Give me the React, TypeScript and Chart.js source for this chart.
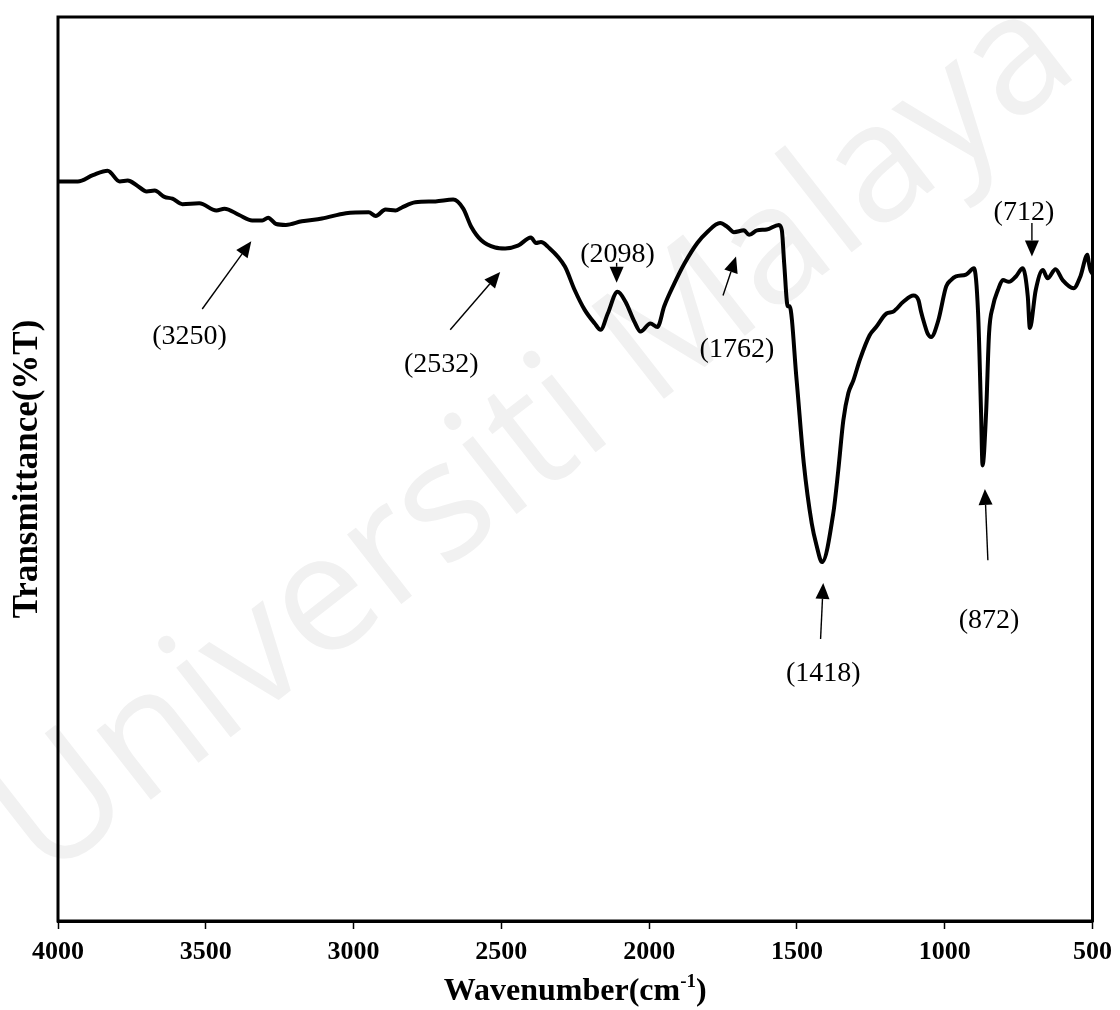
import { useEffect, useRef } from "react";
import { Chart, registerables } from "chart.js";

Chart.register(...registerables);

// Spectrum (wavenumber in cm-1, transmittance in arbitrary %T units)
const wavenumbers = [
  4000, 3933, 3882, 3832, 3791, 3764, 3734, 3700, 3673, 3640, 3613, 3579, 3522, 3464, 3437, 3387,
  3343, 3309, 3289, 3262, 3229, 3175, 3107, 3026, 2949, 2925, 2892, 2858, 2838, 2791, 2723, 2663,
  2629, 2602, 2568, 2521, 2487, 2444, 2400, 2383, 2366, 2343, 2285, 2252, 2218, 2184, 2164, 2140,
  2107, 2080, 2050, 2029, 1996, 1972, 1949, 1915, 1881, 1837, 1804, 1760, 1736, 1713, 1679, 1662,
  1635, 1602, 1561, 1551, 1543, 1531, 1525, 1501, 1477, 1450, 1434, 1415, 1377, 1360, 1343, 1326,
  1309, 1287, 1254, 1232, 1197, 1175, 1140, 1106, 1089, 1080, 1069, 1058, 1046, 1022, 995, 979,
  962, 928, 901, 887, 877, 872, 860, 850, 837, 820, 803, 783, 759, 736, 719, 712,
  692, 668, 652, 625, 601, 564, 541, 517, 513, 507, 500,
];
const transmittance = [
  81.8, 81.8, 82.5, 83.0, 81.8, 81.9, 81.4, 80.7, 80.8, 80.1, 79.9, 79.3, 79.4, 78.6, 78.8, 78.1,
  77.5, 77.5, 77.8, 77.1, 77.0, 77.4, 77.7, 78.3, 78.4, 78.0, 78.7, 78.6, 78.9, 79.5, 79.6, 79.8,
  78.8, 76.8, 75.3, 74.5, 74.4, 74.7, 75.6, 75.0, 75.1, 74.6, 72.4, 69.8, 67.6, 66.1, 65.4, 67.2,
  69.6, 68.5, 66.3, 65.2, 66.1, 65.7, 68.0, 70.5, 72.7, 75.0, 76.2, 77.2, 76.8, 76.2, 76.4, 75.9,
  76.4, 76.5, 77.0, 76.4, 72.7, 68.0, 68.0, 59.8, 50.7, 44.0, 41.6, 39.7, 45.1, 49.9, 55.4, 58.4,
  59.8, 62.1, 64.8, 65.7, 67.2, 67.4, 68.5, 69.2, 68.7, 67.4, 66.1, 65.0, 64.6, 66.4, 70.2, 70.9,
  71.3, 71.5, 72.2, 67.2, 56.2, 50.4, 56.2, 65.0, 68.0, 69.8, 70.9, 70.7, 71.3, 72.2, 69.1, 65.6,
  69.8, 72.0, 71.1, 72.1, 70.9, 70.0, 71.3, 73.7, 72.9, 72.0, 71.6,
];

const xTicks = [4000, 3500, 3000, 2500, 2000, 1500, 1000, 500];
const xTitleMain = "Wavenumber(cm";
const xTitleSup = "-1";
const yTitle = "Transmittance(%T)";
const watermark = "Universiti Malaya";

// Peak annotations (data space)
const peakLabels = ["(3250)", "(2532)", "(2098)", "(1762)", "(1418)", "(872)", "(712)"];
const labelWn = [3555, 2703, 2107, 1703, 1411, 850, 732];
const labelT = [64.6, 61.5, 73.7, 63.2, 27.4, 33.2, 78.4];
const arrowFromWn = [3512, 2673, 2110, 1750, 1420, 854, 705];
const arrowFromT = [67.7, 65.4, 72.8, 69.2, 31.2, 39.9, 77.2];
const arrowToWn = [3346, 2504, 2110, 1706, 1411, 864, 705];
const arrowToT = [75.2, 71.8, 70.6, 73.5, 37.4, 47.8, 73.5];

const SERIF = "'Liberation Serif', 'Times New Roman', serif";

const decorPlugin = {
  id: "decor",
  beforeDraw(chart: any) {
    const ctx = chart.ctx;
    ctx.save();
    ctx.fillStyle = "#ffffff";
    ctx.fillRect(0, 0, chart.width, chart.height);
    ctx.translate(535, 440);
    ctx.rotate((-38 * Math.PI) / 180);
    ctx.font = "165px 'Open Sans', 'Liberation Sans', sans-serif";
    ctx.fillStyle = "#f1f1f1";
    ctx.textAlign = "center";
    ctx.textBaseline = "middle";
    ctx.fillText(watermark, 0, 0);
    ctx.restore();
  },
  afterDatasetsDraw(chart: any) {
    const ctx = chart.ctx;
    const xs = chart.scales.x;
    const ys = chart.scales.y;
    const area = chart.chartArea;
    ctx.save();
    // frame
    ctx.strokeStyle = "#000";
    ctx.lineWidth = 3;
    ctx.strokeRect(area.left, area.top, area.right - area.left, area.bottom - area.top);

    // arrows
    for (let i = 0; i < peakLabels.length; i++) {
      const x1 = xs.getPixelForValue(arrowFromWn[i]);
      const y1 = ys.getPixelForValue(arrowFromT[i]);
      const x2 = xs.getPixelForValue(arrowToWn[i]);
      const y2 = ys.getPixelForValue(arrowToT[i]);
      const ang = Math.atan2(y2 - y1, x2 - x1);
      const headL = 16;
      const headW = 7;
      const bx = x2 - headL * Math.cos(ang);
      const by = y2 - headL * Math.sin(ang);
      ctx.strokeStyle = "#000";
      ctx.lineWidth = 1.4;
      ctx.beginPath();
      ctx.moveTo(x1, y1);
      ctx.lineTo(bx, by);
      ctx.stroke();
      ctx.fillStyle = "#000";
      ctx.beginPath();
      ctx.moveTo(x2, y2);
      ctx.lineTo(bx + headW * Math.sin(ang), by - headW * Math.cos(ang));
      ctx.lineTo(bx - headW * Math.sin(ang), by + headW * Math.cos(ang));
      ctx.closePath();
      ctx.fill();

      ctx.font = `28px ${SERIF}`;
      ctx.textAlign = "center";
      ctx.textBaseline = "middle";
      ctx.fillText(peakLabels[i], xs.getPixelForValue(labelWn[i]), ys.getPixelForValue(labelT[i]));
    }

    // x title with superscript
    ctx.fillStyle = "#000";
    ctx.textBaseline = "middle";
    ctx.textAlign = "left";
    const mainFont = `bold 32px ${SERIF}`;
    const supFont = `bold 19px ${SERIF}`;
    ctx.font = mainFont;
    const wMain = ctx.measureText(xTitleMain).width;
    const wClose = ctx.measureText(")").width;
    ctx.font = supFont;
    const wSup = ctx.measureText(xTitleSup).width;
    const total = wMain + wSup + wClose;
    const cx = (area.left + area.right) / 2;
    const ty = 992;
    let tx = cx - total / 2;
    ctx.font = mainFont;
    ctx.fillText(xTitleMain, tx, ty);
    tx += wMain;
    ctx.font = supFont;
    ctx.fillText(xTitleSup, tx, ty - 10);
    tx += wSup;
    ctx.font = mainFont;
    ctx.fillText(")", tx, ty);

    // y title
    ctx.translate(28, (area.top + area.bottom) / 2);
    ctx.rotate(-Math.PI / 2);
    ctx.textAlign = "center";
    ctx.font = `bold 35px ${SERIF}`;
    ctx.fillText(yTitle, 0, 0);
    ctx.restore();
  },
};

export default function App() {
  const ref = useRef<HTMLCanvasElement | null>(null);
  useEffect(() => {
    if (!ref.current) return;
    const chart = new Chart(ref.current, {
      type: "line",
      data: {
        datasets: [
          {
            data: wavenumbers.map((w, i) => ({ x: w, y: transmittance[i] })),
            borderColor: "#000",
            borderWidth: 4,
            pointRadius: 0,
            tension: 0,
            cubicInterpolationMode: "monotone",
            borderJoinStyle: "round",
            borderCapStyle: "round",
            fill: false,
          },
        ],
      },
      options: {
        animation: false,
        responsive: false,
        maintainAspectRatio: false,
        layout: { padding: { left: 58, right: 23, top: 17, bottom: 0 } },
        plugins: { legend: { display: false }, tooltip: { enabled: false } },
        scales: {
          x: {
            type: "linear",
            min: 500,
            max: 4000,
            reverse: true,
            afterBuildTicks: (scale: any) => {
              scale.ticks = xTicks.map((v) => ({ value: v }));
            },
            afterFit: (scale: any) => {
              scale.height = 89;
            },
            grid: {
              display: true,
              drawOnChartArea: false,
              drawTicks: true,
              tickLength: 8,
              tickWidth: 1.5,
              tickColor: "#000",
            },
            border: { display: true, color: "#000", width: 3 },
            ticks: {
              color: "#000",
              padding: 8,
              maxRotation: 0,
              autoSkip: false,
              font: { family: SERIF, size: 26, weight: "bold" },
              callback: (v: any) => String(v),
            },
          },
          y: {
            display: false,
            min: 0,
            max: 100,
          },
        },
      },
      plugins: [decorPlugin],
    });
    return () => chart.destroy();
  }, []);
  return (
    <div style={{ position: "fixed", left: 0, top: 0, width: 1120, height: 1010, background: "#fff" }}>
      <canvas ref={ref} width={1120} height={1010} style={{ width: 1120, height: 1010, display: "block" }} />
    </div>
  );
}
